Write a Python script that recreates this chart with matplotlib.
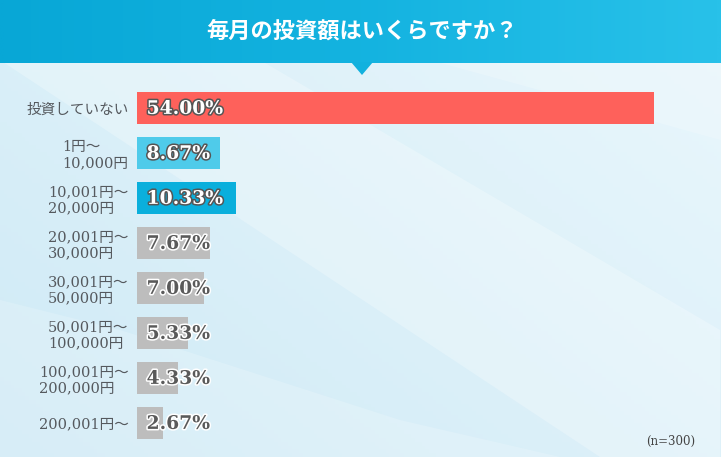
import numpy as np
import matplotlib
matplotlib.use("Agg")
import matplotlib.pyplot as plt
from matplotlib.patches import Polygon
import matplotlib.patheffects as pe

categories = [
    "投資していない",
    "1円～\n10,000円",
    "10,001円～\n20,000円",
    "20,001円～\n30,000円",
    "30,001円～\n50,000円",
    "50,001円～\n100,000円",
    "100,001円～\n200,000円",
    "200,001円～",
]
values = [54.00, 8.67, 10.33, 7.67, 7.00, 5.33, 4.33, 2.67]
bar_colors = ["#fe615b", "#4fcbea", "#0aafdc", "#bdbdbd",
              "#bdbdbd", "#bdbdbd", "#bdbdbd", "#bdbdbd"]
title = "毎月の投資額はいくらですか？"
note = "(n=300)"

W, H = 721, 457
serif = ["DejaVu Serif", "Noto Sans CJK JP"]
text_gray = "#55595e"

fig = plt.figure(figsize=(W / 100, H / 100), dpi=100)

# background in pixel coordinates
bg = fig.add_axes([0, 0, 1, 1])
bg.set_xlim(0, W)
bg.set_ylim(H, 0)
bg.axis("off")

# light blue background gradient
gx, gy = np.meshgrid(np.linspace(0, 1, 200), np.linspace(0, 1, 120))
grad = 0.55 * gx + 0.45 * (1 - gy)
bg.imshow(grad, extent=[0, W, H, 0], cmap=matplotlib.colors.LinearSegmentedColormap.from_list(
    "bgc", ["#cfeaf6", "#eaf7fc"]), aspect="auto", zorder=0)

# soft light swooshes
bg.add_patch(Polygon([[0, 60], [260, 60], [720, 330], [720, 457], [600, 457]],
                     closed=True, color="white", alpha=0.25, lw=0, zorder=1))
bg.add_patch(Polygon([[0, 300], [120, 330], [400, 420], [560, 457], [0, 457]],
                     closed=True, color="white", alpha=0.18, lw=0, zorder=1))
bg.add_patch(Polygon([[430, 60], [721, 60], [721, 140]],
                     closed=True, color="white", alpha=0.2, lw=0, zorder=1))

# header band with horizontal gradient
hx = np.linspace(0, 1, 300).reshape(1, -1)
bg.imshow(hx, extent=[0, W, 63, 0], cmap=matplotlib.colors.LinearSegmentedColormap.from_list(
    "hdr", ["#08a7d6", "#14b3e0", "#28c1e9"]), aspect="auto", zorder=2)
bg.add_patch(Polygon([[351, 62], [373, 62], [362, 75]], closed=True,
                     color="#12b1de", lw=0, zorder=3))
bg.text(362, 31, title, color="white", fontsize=16, fontweight="bold",
        family=["Noto Sans CJK JP"], ha="center", va="center", zorder=4)
bg.text(695, 441, note, color="#444444", fontsize=8.5, family=serif,
        ha="right", va="center", zorder=4)

# bar chart
px = 9.57  # pixels per percent
left = 137
xmax = 60
row_h = 45
top = 108 - row_h / 2
ax = fig.add_axes([left / W, (H - top - row_h * len(values)) / H,
                   xmax * px / W, row_h * len(values) / H])
ax.patch.set_alpha(0)
y = np.arange(len(values))
ax.barh(y, values, height=0.73, color=bar_colors, zorder=2)
ax.set_xlim(0, xmax)
ax.set_ylim(len(values) - 0.5, -0.5)
ax.set_xticks([])
ax.set_yticks(y)
ax.set_yticklabels(categories, family=serif, fontsize=10.5, color=text_gray,
                   multialignment="left", linespacing=1.2)
ax.tick_params(axis="y", length=0, pad=6)
for s in ax.spines.values():
    s.set_visible(False)

for i, v in enumerate(values):
    if bar_colors[i] == "#bdbdbd":
        fc, ec = "#5a5a5a", "white"
    else:
        fc, ec = "white", "#555555"
    ax.text(1.0, i + 0.02, f"{v:.2f}%", color=fc, fontsize=13.5, fontweight="bold",
            family=serif, ha="left", va="center", zorder=3,
            path_effects=[pe.withStroke(linewidth=2.2, foreground=ec)])

fig.savefig("out.png", dpi=100)
